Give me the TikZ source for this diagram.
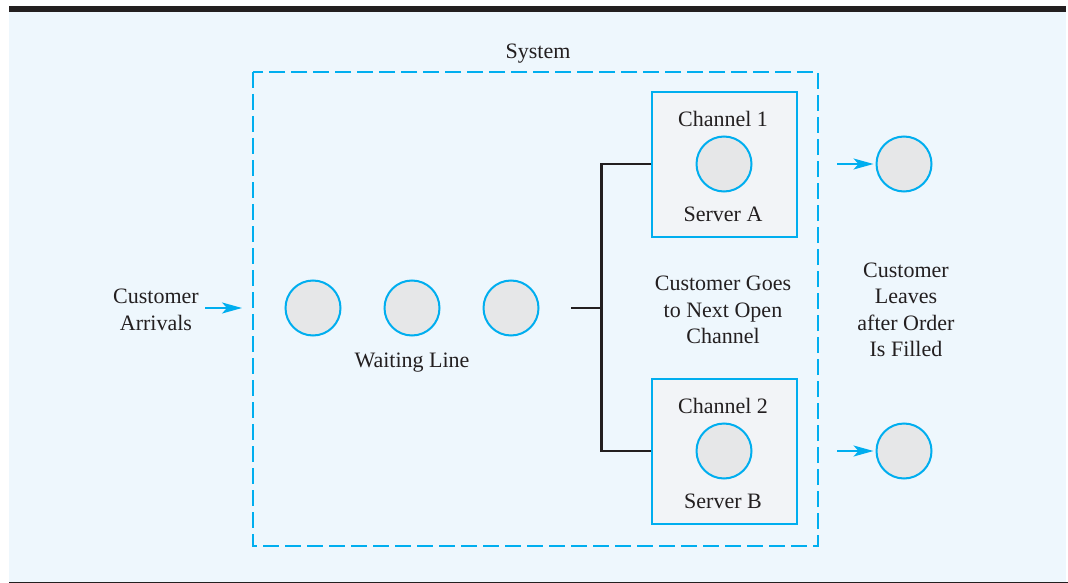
\documentclass[tikz,border=0pt]{standalone}
\usepackage{fontspec}
\setmainfont{Liberation Serif}
\usetikzlibrary{arrows.meta}
\definecolor{bgblue}{HTML}{EEF7FD}
\definecolor{cyanline}{HTML}{00AEEF}
\definecolor{circfill}{HTML}{E6E7E8}
\definecolor{boxfill}{HTML}{F2F4F7}
\definecolor{darkline}{HTML}{231F20}
\tikzset{
  cust/.style={circle, draw=cyanline, line width=2pt, fill=circfill, minimum size=55pt, inner sep=0pt},
  chanbox/.style={draw=cyanline, line width=1.3pt, fill=boxfill, minimum width=145pt, minimum height=145pt, inner sep=0pt},
  lbl/.style={text=darkline, align=center, inner sep=0pt, font=\fontsize{22}{26.5}\selectfont},
  flowarrow/.style={draw=cyanline, line width=2pt, -{Stealth[length=20pt,width=11pt,inset=5pt]}},
  feed/.style={draw=darkline, line width=2.2pt},
}
\begin{document}
\begin{tikzpicture}[x=1pt,y=-1pt]
\useasboundingbox (0,0) rectangle (1068,583);
% background and rules
\fill[bgblue] (9,12) rectangle (1066,582);
\fill[darkline] (9,6) rectangle (1066,12);
\fill[darkline] (9,581.5) rectangle (1068,583);
% system boundary
\draw[cyanline, line width=2pt, dash pattern=on 16pt off 6pt] (253,72) rectangle (818,546);
\node[lbl] (sys) at (538,54) {System};
% arrivals
\node[lbl] (arr) at (156,310) {Customer\\Arrivals};
\coordinate (arrS) at (205,308);
\coordinate (arrE) at (242,308);
\draw[flowarrow] (arrS) -- (arrE);
% waiting line
\node[cust] (w1) at (313,308) {};
\node[cust] (w2) at (412,308) {};
\node[cust] (w3) at (511,308) {};
\node[lbl] (wl) at (412,363) {Waiting Line};
% channels
\node[chanbox] (ch1) at (724.5,164.5) {};
\node[chanbox] (ch2) at (724.5,451.5) {};
\node[lbl] (c1t) at (723,119) {Channel 1};
\node[cust] (s1) at (724,164) {};
\node[lbl] (c1s) at (723,214) {Server A};
\node[lbl] (c2t) at (723,406) {Channel 2};
\node[cust] (s2) at (724,451) {};
\node[lbl] (c2s) at (723,501) {Server B};
% feed lines
\coordinate (fs) at (571,308);
\coordinate (fj) at (601.5,308);
\draw[feed] (fs) -- (fj);
\draw[feed] (ch1.west |- s1) -| (fj) |- (ch2.west |- s2);
\node[lbl] (goes) at (723,310) {Customer Goes\\to Next Open\\Channel};
% departures
\node[cust] (o1) at (904,164) {};
\node[cust] (o2) at (904,451) {};
\coordinate (d1) at (837,164);
\coordinate (d2) at (837,451);
\draw[flowarrow, shorten >=2pt] (d1) -- (o1.west);
\draw[flowarrow, shorten >=2pt] (d2) -- (o2.west);
\node[lbl] (leave) at (906,310) {Customer\\Leaves\\after Order\\Is Filled};
\end{tikzpicture}
\end{document}
